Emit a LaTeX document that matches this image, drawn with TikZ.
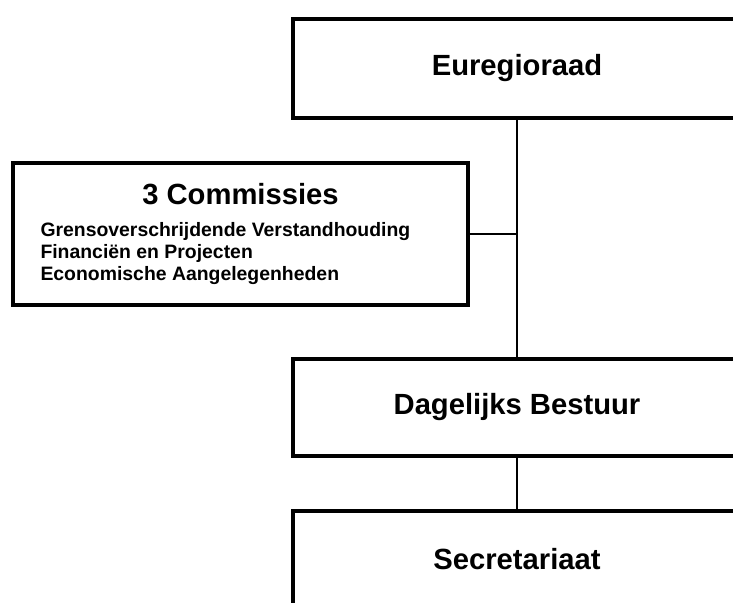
\documentclass[tikz,border=0pt]{standalone}
\usepackage{fontspec}
\setmainfont{Liberation Sans}
\usepackage{tikz}
\usetikzlibrary{calc}

\begin{document}
\begin{tikzpicture}[x=0.5pt, y=-0.5pt]
\def\dist{169.5pt}
	\tikzset{orgbox/.style={rectangle, draw=black, line width=2pt, fill=white, minimum width=224pt, align=center, font=\bfseries\fontsize{14.6}{17}\selectfont}}
	\tikzset{link/.style={draw=black, line width=1.3pt}}

\useasboundingbox (0,0) rectangle (733,603);
\fill[white] (0,0) rectangle (733,603);
\clip (0,0) rectangle (733,603);

\node[orgbox, minimum height=49.5pt] (raad) at (517,68.5) {Euregioraad};
\node[orgbox, minimum height=48.5pt, below of=raad, node distance=\dist] (bestuur) {Dagelijks Bestuur};
\node[orgbox, minimum height=48pt, below of=bestuur, node distance=75.75pt] (secr) {Secretariaat};
\node[orgbox, minimum width=227.5pt, minimum height=71pt, inner xsep=0pt] (comm) at (240.5,234) {%
\begin{minipage}{200pt}
\centering 3 Commissies\par
\vspace{5pt}
\raggedright\fontsize{9.7}{11}\selectfont Grensoverschrijdende Verstandhouding\\ Financiën en Projecten\\ Economische Aangelegenheden
\end{minipage}};

\coordinate (knik) at (comm.east -| raad.south);

\draw[link] (raad) -- (bestuur);
\draw[link] (comm) -- (knik);
\draw[link] (bestuur) -- (secr);
\end{tikzpicture}
\end{document}
